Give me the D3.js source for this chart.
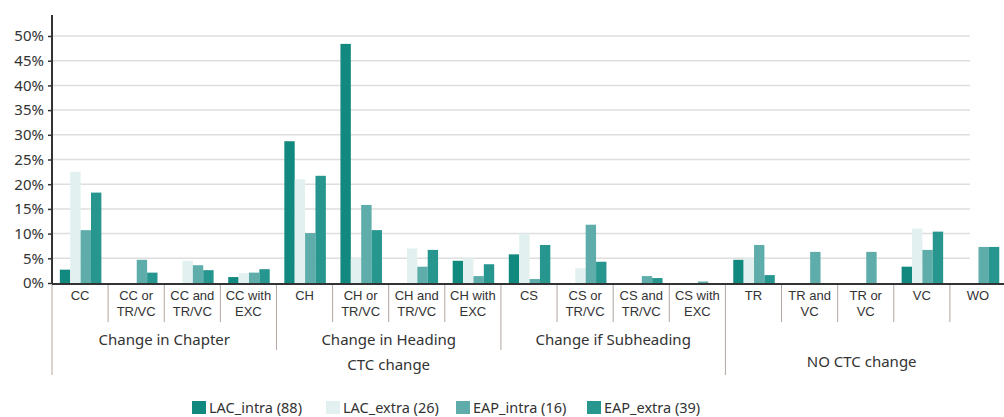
<!DOCTYPE html>
<html><head><meta charset="utf-8">
<script src="https://cdn.jsdelivr.net/npm/d3@7"></script>
<style>
html,body{margin:0;padding:0;background:#fff;}
text{font-family:"Noto Sans","Open Sans",sans-serif;fill:#333;}
</style></head>
<body><svg id="chart" width="1004" height="417"></svg>
<script>
const categories = ["CC","CC or|TR/VC","CC and|TR/VC","CC with|EXC","CH","CH or|TR/VC","CH and|TR/VC","CH with|EXC","CS","CS or|TR/VC","CS and|TR/VC","CS with|EXC","TR","TR and|VC","TR or|VC","VC","WO"];
const groups = [
  {name:"Change in Chapter", from:0, to:4},
  {name:"Change in Heading", from:4, to:8},
  {name:"Change if Subheading", from:8, to:12}
];
const superGroups = [
  {name:"CTC change", from:0, to:12},
  {name:"NO CTC change", from:12, to:17}
];
const seriesNames = ["LAC_intra (88)","LAC_extra (26)","EAP_intra (16)","EAP_extra (39)"];
const LAC_intra = [2.7, 0, 0, 1.2, 28.7, 48.4, 0, 4.5, 5.8, 0, 0, 0, 4.7, 0, 0, 3.3, 0];
const LAC_extra = [22.5, 0, 4.5, 2, 21, 5, 7, 5, 10, 3, 0, 0, 5, 0, 0, 11, 0];
const EAP_intra = [10.7, 4.7, 3.6, 2.1, 10.1, 15.8, 3.3, 1.4, 0.8, 11.8, 1.4, 0.3, 7.7, 6.3, 6.3, 6.7, 7.3];
const EAP_extra = [18.3, 2.1, 2.6, 2.8, 21.7, 10.7, 6.7, 3.8, 7.7, 4.3, 1.0, 0, 1.6, 0, 0, 10.4, 7.3];
const yTicks = [0,5,10,15,20,25,30,35,40,45,50];
const colors = ["#11897f","#e2f0f0","#5eadaa","#27968f"];

const series = [LAC_intra, LAC_extra, EAP_intra, EAP_extra];
const svg = d3.select("#chart");
const mLeft = 52, mRight = 1006, mTop = 15, base = 283;

const x0 = d3.scaleBand().domain(d3.range(categories.length)).range([mLeft, mRight]).padding(0);
const bw = x0.bandwidth();
const x1 = d3.scaleBand().domain(d3.range(4)).range([bw*0.14, bw*0.88]).padding(0);
const y = d3.scaleLinear().domain([0, 50]).range([base, 36]);

// gridlines
svg.append("g").selectAll("line").data(yTicks.filter(t=>t>0)).join("line")
  .attr("x1", mLeft).attr("x2", 970)
  .attr("y1", d=>y(d)).attr("y2", d=>y(d))
  .attr("stroke", "#dedede").attr("stroke-width", 1.5);

// bars
const g = svg.append("g");
series.forEach((vals, si) => {
  g.append("g").selectAll("rect").data(vals).join("rect")
    .attr("x", (d,i)=>x0(i)+x1(si))
    .attr("width", x1.bandwidth())
    .attr("y", d=>y(d))
    .attr("height", d=>base - y(d))
    .attr("fill", colors[si]);
});

// y axis
const yAxis = d3.axisLeft(y).tickValues(yTicks).tickFormat(d=>d+"%").tickSize(4).tickPadding(4);
const ya = svg.append("g").attr("transform", `translate(${mLeft},0)`).call(yAxis);
ya.select(".domain").remove();
ya.selectAll(".tick line").attr("stroke", "#333").attr("stroke-width", 1.5);
ya.selectAll(".tick text").style("font-size", "15px").style("font-family", '"Noto Sans",sans-serif').attr("fill", "#333");
svg.append("line").attr("x1", mLeft).attr("x2", mLeft).attr("y1", mTop).attr("y2", base+1)
  .attr("stroke", "#333").attr("stroke-width", 2);
svg.append("line").attr("x1", mLeft).attr("x2", 1004).attr("y1", base+1).attr("y2", base+1)
  .attr("stroke", "#333").attr("stroke-width", 2);

// category separators & labels
const sepColor = "#b3a6a0";
const sep = svg.append("g");
for (let i = 0; i <= categories.length; i++) {
  const xx = i < categories.length ? x0(i) : mRight;
  let y2 = 322;
  if (i === 4 || i === 8) y2 = 350;
  if (i === 0 || i === 12) y2 = 375;
  sep.append("line").attr("x1", xx).attr("x2", xx).attr("y1", base+2).attr("y2", y2)
    .attr("stroke", sepColor).attr("stroke-width", 1);
}
const cl = svg.append("g");
categories.forEach((c, i) => {
  c.split("|").forEach((ln, k) => {
    cl.append("text").attr("x", x0(i)+bw/2).attr("y", 300 + k*15.5)
      .attr("text-anchor", "middle").style("font-size", "13px")
      .style("font-family", '"Liberation Sans",Arial,sans-serif')
      .text(ln);
  });
});
groups.forEach(gr => {
  const cx = (x0(gr.from) + (gr.to < categories.length ? x0(gr.to) : mRight)) / 2;
  svg.append("text").attr("x", cx).attr("y", 345).attr("text-anchor", "middle")
    .style("font-size", "15px").text(gr.name);
});
superGroups.forEach((gr, k) => {
  const cx = (x0(gr.from) + (gr.to < categories.length ? x0(gr.to) : mRight)) / 2;
  svg.append("text").attr("x", cx - (k===1?4:0)).attr("y", k===0?370:367).attr("text-anchor", "middle")
    .style("font-size", "15px").text(gr.name);
});

// legend
const legX = [192, 326, 456, 587];
const leg = svg.append("g");
seriesNames.forEach((n, i) => {
  leg.append("rect").attr("x", legX[i]).attr("y", 401).attr("width", 14).attr("height", 13).attr("fill", colors[i]);
  leg.append("text").attr("x", legX[i]+17).attr("y", 413).style("font-size", "14.5px").text(n);
});
</script></body></html>
